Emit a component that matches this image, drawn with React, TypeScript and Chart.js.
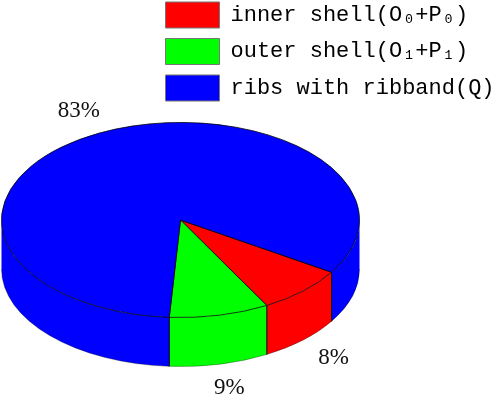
import React, { useEffect, useRef } from "react";
import { Chart, registerables } from "chart.js";

Chart.register(...registerables);

const categories = ["inner shell(O₀+P₀)", "outer shell(O₁+P₁)", "ribs with ribband(Q)"];
const shares = [8, 9, 83];
const colors = ["#ff0000", "#00ff00", "#0000ff"];

const FIRST_SLICE_ROTATION = 122.4;
const TILT = 0.545;
const DEPTH = 49;
const FACE_CENTER_Y = 220;
const LABEL_FACTOR = 1.25;

const tiltPlugin = {
  id: "tilt",
  afterLayout(chart: any) {
    const l = chart.legend;
    const w = l.width;
    const h = l.height;
    l.left = 155;
    l.top = -8.5;
    l.right = 155 + w;
    l.bottom = -8.5 + h;
  },
  beforeDatasetDraw(chart: any) {
    const ctx = chart.ctx;
    const arcs = chart.getDatasetMeta(0).data;
    const TWO_PI = Math.PI * 2;
    arcs.forEach((arc: any) => {
      const { x, startAngle, endAngle, outerRadius: r } = arc.getProps(["x", "startAngle", "endAngle", "outerRadius"]);
      const ry = r * TILT;
      const fy = FACE_CENTER_Y;
      for (const shift of [0, TWO_PI]) {
        const a = Math.max(startAngle, shift);
        const b = Math.min(endAngle, shift + Math.PI);
        if (a >= b) continue;
        ctx.save();
        ctx.beginPath();
        ctx.ellipse(x, fy, r, ry, 0, a, b);
        ctx.ellipse(x, fy + DEPTH, r, ry, 0, b, a, true);
        ctx.closePath();
        ctx.fillStyle = arc.options.backgroundColor;
        ctx.fill();
        ctx.beginPath();
        ctx.ellipse(x, fy + DEPTH, r, ry, 0, a, b);
        ctx.strokeStyle = "rgba(0,0,0,0.45)";
        ctx.lineWidth = 0.7;
        ctx.stroke();
        ctx.restore();
      }
      for (const ang of [startAngle, endAngle]) {
        const norm = ((ang % TWO_PI) + TWO_PI) % TWO_PI;
        if (norm <= 0 || norm >= Math.PI) continue;
        const px = x + r * Math.cos(norm);
        const py = fy + ry * Math.sin(norm);
        ctx.save();
        ctx.beginPath();
        ctx.moveTo(px, py);
        ctx.lineTo(px, py + DEPTH);
        ctx.strokeStyle = "#000";
        ctx.lineWidth = 0.8;
        ctx.stroke();
        ctx.restore();
      }
    });
    const cy = arcs[0].getProps(["y"]).y;
    ctx.save();
    ctx.translate(0, FACE_CENTER_Y);
    ctx.scale(1, TILT);
    ctx.translate(0, -cy);
  },
  afterDatasetDraw(chart: any) {
    chart.ctx.restore();
  },
  afterDatasetsDraw(chart: any) {
    const ctx = chart.ctx;
    const arcs = chart.getDatasetMeta(0).data;
    ctx.save();
    ctx.font = '23px "Liberation Serif"';
    ctx.fillStyle = "#111";
    ctx.textAlign = "center";
    ctx.textBaseline = "middle";
    arcs.forEach((arc: any, i: number) => {
      const { x, startAngle, endAngle, outerRadius: r } = arc.getProps(["x", "startAngle", "endAngle", "outerRadius"]);
      const mid = (startAngle + endAngle) / 2;
      const s = Math.sin(mid);
      const lx = x + Math.cos(mid) * r * LABEL_FACTOR;
      const ly = FACE_CENTER_Y + s * r * TILT * LABEL_FACTOR + (s > 0 ? DEPTH : 0);
      ctx.fillText(`${shares[i]}%`, lx, ly);
    });
    ctx.restore();
  },
};

export default function App() {
  const ref = useRef<HTMLCanvasElement>(null);
  useEffect(() => {
    const chart = new Chart(ref.current as HTMLCanvasElement, {
      type: "pie",
      data: {
        labels: categories,
        datasets: [
          {
            data: shares,
            backgroundColor: colors,
            borderColor: "#000",
            borderWidth: 1,
            clip: false,
          } as any,
        ],
      },
      options: {
        animation: false,
        responsive: false,
        rotation: FIRST_SLICE_ROTATION,
        layout: { padding: { left: 1, right: 138, top: 0, bottom: 0 } },
        plugins: {
          tooltip: { enabled: false },
          legend: {
            position: "chartArea",
            align: "start",
            labels: {
              boxWidth: 54,
              boxHeight: 26,
              padding: 10.5,
              color: "#000",
              font: { family: '"Liberation Mono"', size: 22 },
              generateLabels(c: any) {
                return Chart.overrides.pie.plugins.legend.labels
                  .generateLabels(c)
                  .map((it: any) => ({ ...it, strokeStyle: "#777", lineWidth: 1 }));
              },
            },
          },
        },
      } as any,
      plugins: [tiltPlugin],
    });
    return () => chart.destroy();
  }, []);
  return (
    <div style={{ position: "fixed", left: 0, top: 0, width: 498, height: 399, background: "#fff" }}>
      <canvas ref={ref} width={498} height={399} style={{ display: "block" }} />
    </div>
  );
}
